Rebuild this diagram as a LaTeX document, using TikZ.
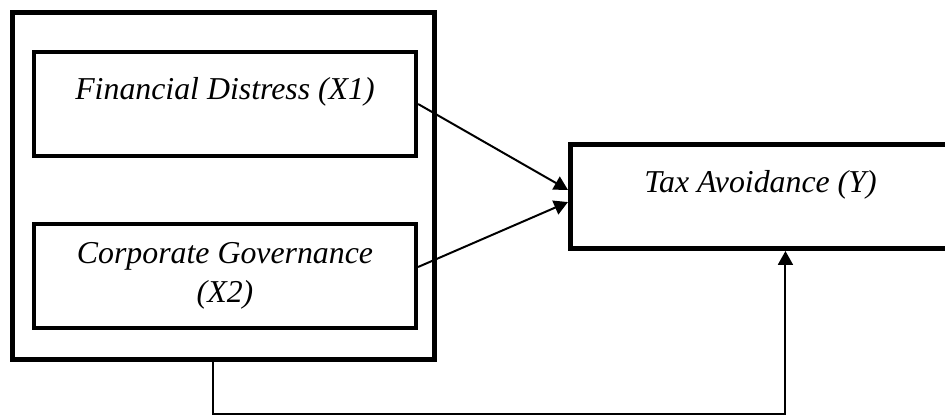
\documentclass[tikz,border=0pt]{standalone}
\usepackage{fontspec}
\setmainfont{Liberation Serif}
\usetikzlibrary{arrows.meta}

\begin{document}
\begin{tikzpicture}[
    x=0.377pt, y=-0.377pt,
    >={Triangle[length=5.2pt, width=5.6pt]},
    every node/.style={font=\fontsize{12pt}{14.7pt}\selectfont\itshape},
    varbox/.style={rectangle, draw, line width=1.6pt, inner sep=0pt,
                   minimum width=144pt, minimum height=39.2pt, align=center},
    groupbox/.style={rectangle, draw, line width=1.9pt, inner sep=0pt,
                     minimum width=159.1pt, minimum height=130.8pt},
    outbox/.style={varbox, line width=1.9pt, minimum width=143.3pt},
    link/.style={->, line width=0.75pt}]

  \useasboundingbox (0,0) rectangle (945,417);
  \clip (0,0) rectangle (945,417);

  % independent variables inside one frame
  \node[groupbox] (grp) at (223.5,186) {};
  \node[varbox, text depth=11.6pt] (fd) at (225,104) {Financial Distress (X1)};
  \node[varbox] (cg) at (225,276) {Corporate Governance\\(X2)};

  % dependent variable (runs off the right edge)
  \node[outbox, text depth=11.4pt] (ta) at (760.5,196.5) {Tax Avoidance (Y)};

  % partial effects
  \draw[link] (fd.east) -- ([yshift=2.5pt]ta.west);
  \draw[link] ([yshift=3.4pt]cg.east) -- ([yshift=-2.1pt]ta.west);

  % joint effect, routed under the frame
  \coordinate (low) at (0,414);
  \draw[link] ([xshift=-4pt]grp.south) -- ([xshift=-4pt]grp.south |- low)
    -| ([xshift=9.4pt]ta.south);
\end{tikzpicture}
\end{document}
